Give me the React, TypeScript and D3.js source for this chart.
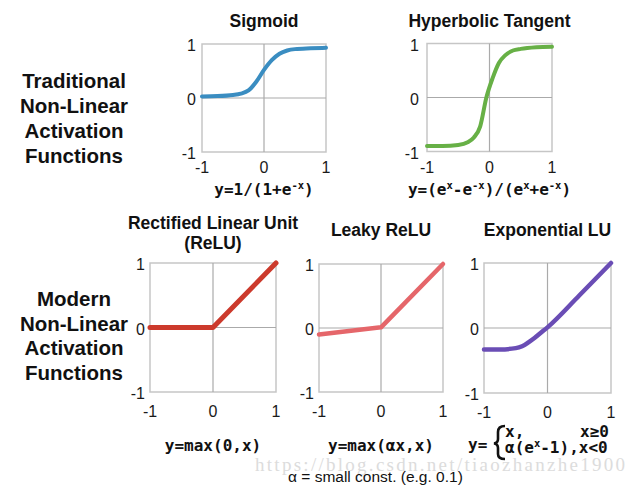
import * as d3 from 'd3';
import React, { useEffect, useRef } from 'react';

// tick values shared by every small panel
const axisTicks = [-1, 0, 1];

// curves
const sigmoidX = [-1, -0.75, -0.5, -0.375, -0.25, -0.125, 0, 0.125, 0.25, 0.375, 0.5, 0.75, 1];
const sigmoidY = [0.03, 0.035, 0.055, 0.08, 0.14, 0.3, 0.52, 0.7, 0.82, 0.88, 0.905, 0.92, 0.93];

const tanhX = [-1, -0.75, -0.5, -0.35, -0.25, -0.15, -0.05, 0.05, 0.15, 0.25, 0.375, 0.5, 0.75, 1];
const tanhY = [-0.9, -0.9, -0.88, -0.83, -0.74, -0.54, 0, 0.36, 0.64, 0.78, 0.87, 0.9, 0.93, 0.94];

const reluX = [-1, 0, 1];
const reluY = [0, 0, 1];

const leakyX = [-1, 0, 1];
const leakyY = [-0.1, 0.01, 1];

const eluX = [-1, -0.75, -0.5, -0.4, -0.3, -0.2, -0.1, 0, 0.5, 1];
const eluY = [-0.33, -0.33, -0.31, -0.28, -0.22, -0.15, -0.07, 0.01, 0.5, 1];

const traditionalLabel = ['Traditional', 'Non-Linear', 'Activation', 'Functions'];
const modernLabel = ['Modern', 'Non-Linear', 'Activation', 'Functions'];

type Seg = { t: string; sup?: boolean };

interface Panel {
    title: string[];
    titleY: number[];
    xs: number[];
    ys: number[];
    smooth: boolean;
    color: string;
    lineWidth: number;
    box: [number, number, number, number]; // x0, x1, y0, y1
    xTickGap: number;
    yTickGap: number;
    formula?: Seg[];
    formulaY?: number;
}

const panels: Panel[] = [
    {
        title: ['Sigmoid'], titleY: [27], xs: sigmoidX, ys: sigmoidY, smooth: true,
        color: '#3a8dc1', lineWidth: 4, box: [202, 326, 44, 152], xTickGap: 21, yTickGap: 6,
        formula: [{ t: 'y=1/(1+e' }, { t: '-x', sup: true }, { t: ')' }], formulaY: 195
    },
    {
        title: ['Hyperbolic Tangent'], titleY: [27], xs: tanhX, ys: tanhY, smooth: true,
        color: '#67b046', lineWidth: 4, box: [427, 552, 43.5, 151.5], xTickGap: 21, yTickGap: 8,
        formula: [
            { t: 'y=(e' }, { t: 'x', sup: true }, { t: '-e' }, { t: '-x', sup: true },
            { t: ')/(e' }, { t: 'x', sup: true }, { t: '+e' }, { t: '-x', sup: true }, { t: ')' }
        ],
        formulaY: 195
    },
    {
        title: ['Rectified Linear Unit', '(ReLU)'], titleY: [229, 249], xs: reluX, ys: reluY, smooth: false,
        color: '#cc3a2c', lineWidth: 5, box: [150, 276, 263, 392], xTickGap: 25, yTickGap: 5,
        formula: [{ t: 'y=max(0,x)' }], formulaY: 451
    },
    {
        title: ['Leaky ReLU'], titleY: [236], xs: leakyX, ys: leakyY, smooth: false,
        color: '#e5666a', lineWidth: 4.5, box: [319, 443, 264, 392], xTickGap: 25, yTickGap: 5,
        formula: [{ t: 'y=max(αx,x)' }], formulaY: 451
    },
    {
        title: ['Exponential LU'], titleY: [236], xs: eluX, ys: eluY, smooth: true,
        color: '#6a4db5', lineWidth: 4.5, box: [484, 611, 263, 393], xTickGap: 25, yTickGap: 5
    }
];

const SANS = '"Liberation Sans", Arial, sans-serif';
const MONO = '"DejaVu Sans Mono", monospace';

const App: React.FC = () => {
    const svgRef = useRef<SVGSVGElement>(null);

    useEffect(() => {
        if (!svgRef.current) return;
        d3.select(svgRef.current).selectAll('*').remove();

        const width = 635;
        const height = 485;
        const svg = d3.select(svgRef.current)
            .attr('width', width)
            .attr('height', height);

        svg.append('rect').attr('width', width).attr('height', height).attr('fill', '#fff');

        // watermark
        svg.append('text')
            .attr('x', 255)
            .attr('y', 471)
            .attr('font-family', '"Liberation Serif", serif')
            .attr('font-size', 19)
            .attr('fill', '#dcdcdc')
            .attr('textLength', 370)
            .attr('lengthAdjust', 'spacing')
            .text('https://blog.csdn.net/tiaozhanzhe1900');

        // row labels on the left
        const rowLabel = (lines: string[], firstBaseline: number, step: number) => {
            lines.forEach((line, i) => {
                svg.append('text')
                    .attr('x', 74)
                    .attr('y', firstBaseline + i * step)
                    .attr('text-anchor', 'middle')
                    .attr('font-family', SANS)
                    .attr('font-weight', 'bold')
                    .attr('font-size', 20.5)
                    .attr('fill', '#111')
                    .text(line);
            });
        };
        rowLabel(traditionalLabel, 88, 25);
        rowLabel(modernLabel, 306, 24.7);

        panels.forEach((p) => {
            const [x0, x1, y0, y1] = p.box;
            const x = d3.scaleLinear().domain([-1, 1]).range([x0, x1]);
            const y = d3.scaleLinear().domain([-1, 1]).range([y1, y0]);
            const g = svg.append('g');

            // frame
            g.append('rect')
                .attr('x', x0)
                .attr('y', y0)
                .attr('width', x1 - x0)
                .attr('height', y1 - y0)
                .attr('fill', 'none')
                .attr('stroke', '#c6c6c6')
                .attr('stroke-width', 1.5);

            // zero lines
            g.append('line')
                .attr('x1', x(0)).attr('x2', x(0))
                .attr('y1', y0).attr('y2', y1)
                .attr('stroke', '#aaa').attr('stroke-width', 1.2);
            g.append('line')
                .attr('x1', x0).attr('x2', x1)
                .attr('y1', y(0)).attr('y2', y(0))
                .attr('stroke', '#aaa').attr('stroke-width', 1.2);

            // tick labels
            axisTicks.forEach((t) => {
                g.append('text')
                    .attr('x', x(t))
                    .attr('y', y1 + p.xTickGap)
                    .attr('text-anchor', 'middle')
                    .attr('font-family', SANS)
                    .attr('font-size', 16)
                    .attr('fill', '#1a1a1a')
                    .text(t);
                g.append('text')
                    .attr('x', x0 - p.yTickGap)
                    .attr('y', y(t) + 7)
                    .attr('text-anchor', 'end')
                    .attr('font-family', SANS)
                    .attr('font-size', 16)
                    .attr('fill', '#1a1a1a')
                    .text(t);
            });

            // curve
            const pts = p.xs.map((v, i) => [v, p.ys[i]] as [number, number]);
            const line = d3.line<[number, number]>()
                .x(d => x(d[0]))
                .y(d => y(d[1]))
                .curve(p.smooth ? d3.curveMonotoneX : d3.curveLinear);
            g.append('path')
                .attr('d', line(pts))
                .attr('fill', 'none')
                .attr('stroke', p.color)
                .attr('stroke-width', p.lineWidth)
                .attr('stroke-linecap', 'round')
                .attr('stroke-linejoin', 'round');

            // title
            p.title.forEach((tl, i) => {
                g.append('text')
                    .attr('x', (x0 + x1) / 2)
                    .attr('y', p.titleY[i])
                    .attr('text-anchor', 'middle')
                    .attr('font-family', SANS)
                    .attr('font-weight', 'bold')
                    .attr('font-size', 17.5)
                    .attr('fill', '#111')
                    .text(tl);
            });

            // formula
            if (p.formula) {
                const ft = g.append('text')
                    .attr('x', x(0))
                    .attr('y', p.formulaY!)
                    .attr('text-anchor', 'middle')
                    .attr('font-family', MONO)
                    .attr('font-weight', 'bold')
                    .attr('font-size', 16)
                    .attr('fill', '#111');
                let raised = false;
                p.formula.forEach((s) => {
                    const ts = ft.append('tspan').text(s.t);
                    if (s.sup) {
                        ts.attr('font-size', 10.5).attr('dy', raised ? 0 : -6);
                        raised = true;
                    } else if (raised) {
                        ts.attr('dy', 6);
                        raised = false;
                    }
                });
            }
        });

        // ELU piecewise formula
        const f = svg.append('g')
            .attr('font-family', MONO)
            .attr('font-weight', 'bold')
            .attr('font-size', 16)
            .attr('fill', '#111');
        f.append('text').attr('x', 468).attr('y', 450).text('y=');
        f.append('path')
            .attr('d', 'M505,426 Q498,426 498,432 L498,439 Q498,443 494,443.5 Q498,444 498,448 L498,454 Q498,459 505,459')
            .attr('fill', 'none')
            .attr('stroke', '#111')
            .attr('stroke-width', 2.6);
        f.append('text').attr('x', 505).attr('y', 437).text('x,');
        f.append('text').attr('x', 609).attr('y', 437).attr('text-anchor', 'end').text('x≥0');
        const l2 = f.append('text').attr('x', 505).attr('y', 453);
        l2.append('tspan').text('α(e');
        l2.append('tspan').attr('font-size', 10.5).attr('dy', -6).text('x');
        l2.append('tspan').attr('dy', 6).text('-1),x<0');

        // alpha note
        svg.append('text')
            .attr('x', 288)
            .attr('y', 482)
            .attr('font-family', SANS)
            .attr('font-size', 15.5)
            .attr('fill', '#111')
            .text('α = small const. (e.g. 0.1)');
    }, []);

    return (
        <div style={{ position: 'absolute', left: 0, top: 0 }}>
            <svg ref={svgRef} style={{ display: 'block' }}></svg>
        </div>
    );
};

export default App;
